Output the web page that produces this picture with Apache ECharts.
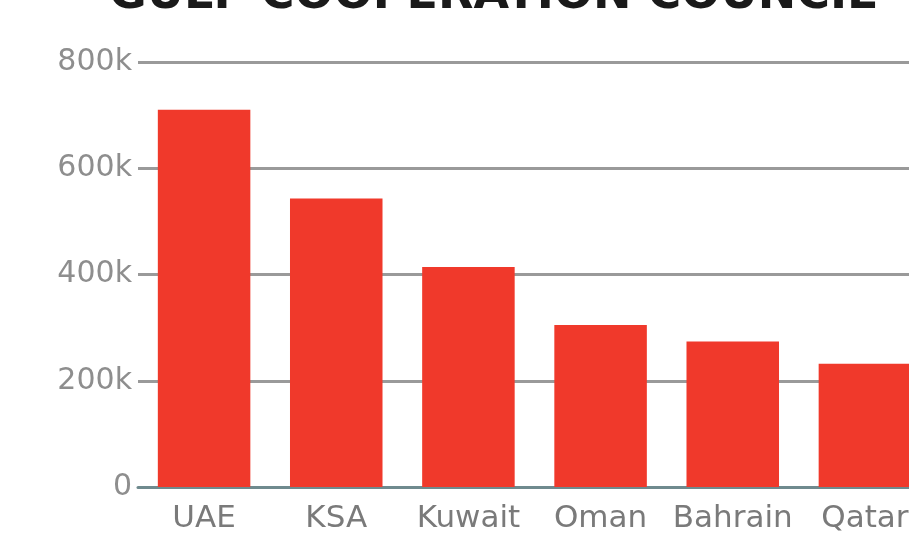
<!DOCTYPE html>
<html>
<head>
<meta charset="utf-8">
<script src="https://cdn.jsdelivr.net/npm/echarts@6/dist/echarts.min.js"></script>
<style>
html,body{margin:0;padding:0;background:#fff;overflow:hidden;}
#c{width:931px;height:534px;}
</style>
</head>
<body>
<div id="c"></div>
<script>
const titleText = 'GULF COOPERATION COUNCIL';
const categories = ['UAE', 'KSA', 'Kuwait', 'Oman', 'Bahrain', 'Qatar'];
const values = [710000, 543000, 414000, 305000, 274000, 232000];
const yTicks = [0, 200000, 400000, 600000, 800000];

const chart = echarts.init(document.getElementById('c'));
chart.setOption({
  backgroundColor: '#ffffff',
  animation: false,
  title: {
    text: titleText,
    left: 104,
    top: -32,
    textStyle: {
      fontFamily: 'DejaVu Sans',
      fontWeight: 'bold',
      fontSize: 46,
      color: '#1a1a1a'
    }
  },
  grid: { left: 138, right: 0, top: 62, bottom: 45, containLabel: false },
  xAxis: {
    type: 'category',
    data: categories,
    axisLine: { lineStyle: { color: '#6f8a8e', width: 3 } },
    axisTick: { show: false },
    axisLabel: {
      interval: 0,
      hideOverlap: false,
      fontFamily: 'DejaVu Sans',
      fontSize: 31,
      color: '#7a7a7a',
      margin: 16
    }
  },
  yAxis: {
    type: 'value',
    min: yTicks[0],
    max: yTicks[yTicks.length - 1],
    interval: 200000,
    axisLine: { show: false },
    axisTick: { show: false },
    splitLine: { lineStyle: { color: '#9a9a9a', width: 3 } },
    axisLabel: {
      fontFamily: 'DejaVu Sans',
      fontSize: 30,
      color: '#8e8e8e',
      margin: 6,
      formatter: v => v === 0 ? '0' : (v / 1000) + 'k'
    }
  },
  series: [{
    type: 'bar',
    data: values,
    barWidth: '70%',
    itemStyle: { color: '#f0392b' }
  }]
});
</script>
</body>
</html>
